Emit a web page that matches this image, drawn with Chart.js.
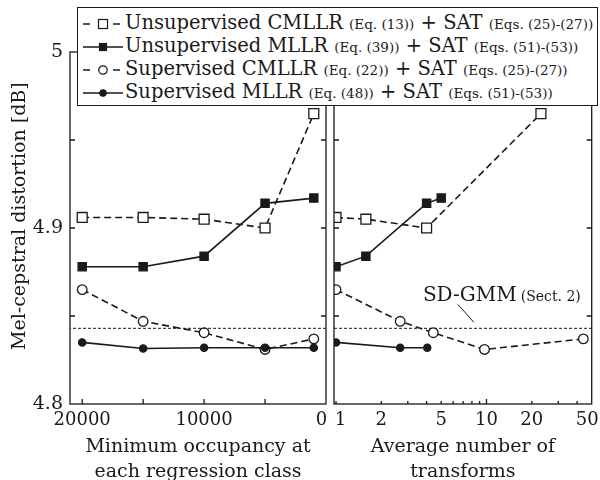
<!DOCTYPE html>
<html>
<head>
<meta charset="utf-8">
<script src="https://cdn.jsdelivr.net/npm/chart.js@4/dist/chart.umd.min.js"></script>
<style>
  html, body { margin: 0; padding: 0; background: #fff; }
  #wrap { position: relative; width: 600px; height: 480px; overflow: hidden; font-family: "DejaVu Serif", serif; color: #1a1a1a; }
  canvas { position: absolute; left: 0; top: 0; }
  #legend { position: absolute; left: 77px; top: 7px; width: 521px; height: 99px; box-sizing: border-box;
            border: 1.3px solid #1a1a1a; background: #fff; padding: 3px 0 0 5px; }
  .row { height: 23px; line-height: 23px; white-space: nowrap; font-size: 19.5px; }
  .row svg { vertical-align: middle; margin-right: 2px; }
  .row small { font-size: 13.5px; }
</style>
</head>
<body>
<div id="wrap">
  <canvas id="left" width="600" height="480"></canvas>
  <canvas id="right" width="600" height="480"></canvas>
  <div id="legend"></div>
</div>
<script>
const FONT = '"DejaVu Serif", serif';
const INK = "#1a1a1a";

// left panel: minimum occupancy at each regression class
const occupancy = [20000, 15000, 10000, 5000, 1000];
const occUnsupCmllr = [4.906, 4.906, 4.905, 4.900, 4.965];
const occUnsupMllr = [4.878, 4.878, 4.884, 4.914, 4.917];
const occSupCmllr = [4.865, 4.847, 4.8405, 4.831, 4.837];
const occSupMllr = [4.835, 4.8315, 4.832, 4.832, 4.832];

// right panel: average number of transforms
const trUnsupCmllrX = [1, 1.58, 4.0, 23];
const trUnsupCmllrY = [4.906, 4.905, 4.900, 4.965];
const trUnsupMllrX = [1, 1.58, 4.0, 5.0];
const trUnsupMllrY = [4.878, 4.884, 4.914, 4.917];
const trSupCmllrX = [1, 2.67, 4.43, 9.7, 44];
const trSupCmllrY = [4.865, 4.847, 4.8405, 4.831, 4.837];
const trSupMllrX = [1, 2.67, 4.04];
const trSupMllrY = [4.835, 4.832, 4.832];

// speaker-dependent GMM reference
const sdGmm = 4.843;

// axes
const yRange = [4.8, 5.0];
const yTicks = [4.8, 4.85, 4.9, 4.95, 5.0];
const yTickLabels = ["4.8", "", "4.9", "", "5"];
const occRange = [0, 21000];
const occTicks = [20000, 15000, 10000, 5000, 0];
const occTickLabels = ["20000", "", "10000", "", "0\u2002"];
const trRange = [0.97, 50];
const trTicks = [1, 2, 3, 4, 5, 6, 7, 8, 9, 10, 20, 30, 40, 50];
const trTickLabels = ["\u20021", "2", "", "", "5", "", "", "", "", "10", "20", "", "", "50\u2002"];

const styles = {
  unsupCmllr: { dash: [7, 4], shape: "rect", r: 7, fill: "#fff" },
  unsupMllr: { dash: [], shape: "rect", r: 5.8, fill: INK },
  supCmllr: { dash: [7, 4], shape: "circle", r: 4.8, fill: "#fff" },
  supMllr: { dash: [], shape: "circle", r: 3.6, fill: INK },
};

function series(xs, ys, st) {
  return {
    data: xs.map((x, i) => ({ x, y: ys[i] })),
    borderColor: INK,
    borderWidth: 1.6,
    borderDash: st.dash,
    pointStyle: st.shape,
    pointRadius: st.r,
    pointBorderWidth: 1.3,
    pointBorderColor: INK,
    pointBackgroundColor: st.fill,
    fill: false,
    tension: 0,
  };
}

function refLine(range) {
  return {
    data: range.map((x) => ({ x, y: sdGmm })),
    borderColor: INK,
    borderWidth: 1,
    borderDash: [3, 2],
    pointRadius: 0,
    fill: false,
  };
}

// frame with inward ticks, like the printed figure
const frame = {
  id: "frame",
  afterDatasetsDraw(chart, args, o) {
    const { ctx, chartArea: a, scales: { x, y } } = chart;
    ctx.save();
    ctx.strokeStyle = INK;
    ctx.lineWidth = 1.3;
    ctx.strokeRect(a.left, a.top, a.right - a.left, a.bottom - a.top);
    ctx.beginPath();
    o.yTicks.forEach((v) => {
      const py = y.getPixelForValue(v);
      if (py <= a.top + 1 || py >= a.bottom - 1) return;
      ctx.moveTo(a.left, py); ctx.lineTo(a.left + 5, py);
      ctx.moveTo(a.right, py); ctx.lineTo(a.right - 5, py);
    });
    o.xTicks.forEach((v) => {
      const px = x.getPixelForValue(v);
      if (px <= a.left + 1 || px >= a.right - 1) return;
      const len = o.long.includes(v) ? 5 : o.len;
      ctx.moveTo(px, a.bottom); ctx.lineTo(px, a.bottom - len);
      ctx.moveTo(px, a.top); ctx.lineTo(px, a.top + len);
    });
    ctx.stroke();
    ctx.restore();
  },
};

const sdLabel = {
  id: "sdLabel",
  afterDatasetsDraw(chart) {
    const { ctx, scales: { x, y } } = chart;
    const py = y.getPixelForValue(sdGmm);
    ctx.save();
    ctx.strokeStyle = INK;
    ctx.lineWidth = 1;
    ctx.beginPath();
    ctx.moveTo(x.getPixelForValue(6.45), py - 24);
    ctx.lineTo(x.getPixelForValue(8.24), py - 6);
    ctx.stroke();
    ctx.fillStyle = INK;
    ctx.textBaseline = "alphabetic";
    const tx = x.getPixelForValue(3.78);
    ctx.font = `20px ${FONT}`;
    ctx.fillText("SD-GMM", tx, py - 27);
    const w = ctx.measureText("SD-GMM").width;
    ctx.font = `14px ${FONT}`;
    ctx.fillText("(Sect. 2)", tx + w + 4, py - 27);
    ctx.restore();
  },
};

const tickFont = { family: FONT, size: 18 };
const titleFont = { family: FONT, size: 19, lineHeight: 1.3 };

function xAxis(type, range, ticks, labels, title, reverse) {
  return {
    type,
    min: range[0],
    max: range[1],
    reverse,
    grid: { display: false, drawTicks: false },
    border: { display: false },
    afterBuildTicks: (s) => { s.ticks = ticks.map((v) => ({ value: v })); },
    afterFit: (s) => { s.height = 76; s.paddingLeft = 0; s.paddingRight = 0; },
    ticks: {
      autoSkip: false, maxRotation: 0, padding: 6, color: INK, font: tickFont,
      callback: (v, i) => labels[i],
    },
    title: { display: true, text: title, color: INK, font: titleFont, padding: { top: 0, bottom: -4 } },
  };
}

function yAxis(display) {
  return {
    type: "linear",
    display,
    min: yRange[0],
    max: yRange[1],
    grid: { display: false, drawTicks: false },
    border: { display: false },
    afterBuildTicks: (s) => { s.ticks = yTicks.map((v) => ({ value: v })); },
    afterFit: (s) => { s.width = display ? 70 : 0; s.paddingTop = 0; s.paddingBottom = 0; },
    ticks: { padding: 7, color: INK, font: { family: FONT, size: 19 }, callback: (v, i) => yTickLabels[i] },
    title: { display: true, text: "\u2003\u2005Mel-cepstral distortion [dB]", color: INK,
             font: { family: FONT, size: 19, lineHeight: 1.2 }, padding: { top: 9, bottom: 0 } },
  };
}

const common = {
  responsive: false,
  animation: false,
  plugins: { legend: { display: false }, tooltip: { enabled: false } },
};

new Chart(document.getElementById("left"), {
  type: "line",
  data: {
    datasets: [
      refLine(occRange),
      series(occupancy, occSupMllr, styles.supMllr),
      series(occupancy, occSupCmllr, styles.supCmllr),
      series(occupancy, occUnsupMllr, styles.unsupMllr),
      series(occupancy, occUnsupCmllr, styles.unsupCmllr),
    ],
  },
  options: {
    ...common,
    layout: { padding: { left: 0, top: 52, right: 274, bottom: 0 } },
    scales: {
      x: xAxis("linear", occRange, occTicks, occTickLabels, ["Minimum occupancy at", "each regression class"], true),
      y: yAxis(true),
    },
    plugins: { ...common.plugins, frame: { yTicks, xTicks: occTicks, len: 5, long: [] } },
  },
  plugins: [frame],
});

new Chart(document.getElementById("right"), {
  type: "line",
  data: {
    datasets: [
      refLine(trRange),
      series(trSupMllrX, trSupMllrY, styles.supMllr),
      series(trSupCmllrX, trSupCmllrY, styles.supCmllr),
      series(trUnsupMllrX, trUnsupMllrY, styles.unsupMllr),
      series(trUnsupCmllrX, trUnsupCmllrY, styles.unsupCmllr),
    ],
  },
  options: {
    ...common,
    layout: { padding: { left: 334, top: 52, right: 8, bottom: 0 } },
    scales: {
      x: xAxis("logarithmic", trRange, trTicks, trTickLabels, ["Average number of", "transforms"], false),
      y: yAxis(false),
    },
    plugins: { ...common.plugins, frame: { yTicks, xTicks: trTicks, len: 3, long: [10] } },
  },
  plugins: [frame, sdLabel],
});

// legend box spanning both panels
const legendItems = [
  { st: styles.unsupCmllr, name: "Unsupervised CMLLR", eq: "(Eq. (13))", sat: "(Eqs. (25)-(27))" },
  { st: styles.unsupMllr, name: "Unsupervised MLLR", eq: "(Eq. (39))", sat: "(Eqs. (51)-(53))" },
  { st: styles.supCmllr, name: "Supervised CMLLR", eq: "(Eq. (22))", sat: "(Eqs. (25)-(27))" },
  { st: styles.supMllr, name: "Supervised MLLR", eq: "(Eq. (48))", sat: "(Eqs. (51)-(53))" },
];

function markerSvg(st) {
  const dash = st.dash.length ? 'stroke-dasharray="7 8"' : "";
  let shape;
  if (st.shape === "rect") {
    const s = st.fill === "#fff" ? 9 : 7;
    shape = `<rect x="${20 - s / 2}" y="${7 - s / 2}" width="${s}" height="${s}" fill="${st.fill}" stroke="${INK}" stroke-width="1.2"/>`;
  } else {
    const r = st.fill === "#fff" ? 4.2 : 3.2;
    shape = `<circle cx="20" cy="7" r="${r}" fill="${st.fill}" stroke="${INK}" stroke-width="1.2"/>`;
  }
  return `<svg width="40" height="14"><line x1="0" y1="7" x2="40" y2="7" stroke="${INK}" stroke-width="1.5" ${dash}/>${shape}</svg>`;
}

document.getElementById("legend").innerHTML = legendItems
  .map((it) => `<div class="row">${markerSvg(it.st)}${it.name} <small>${it.eq}</small> + SAT <small>${it.sat}</small></div>`)
  .join("");
</script>
</body>
</html>
